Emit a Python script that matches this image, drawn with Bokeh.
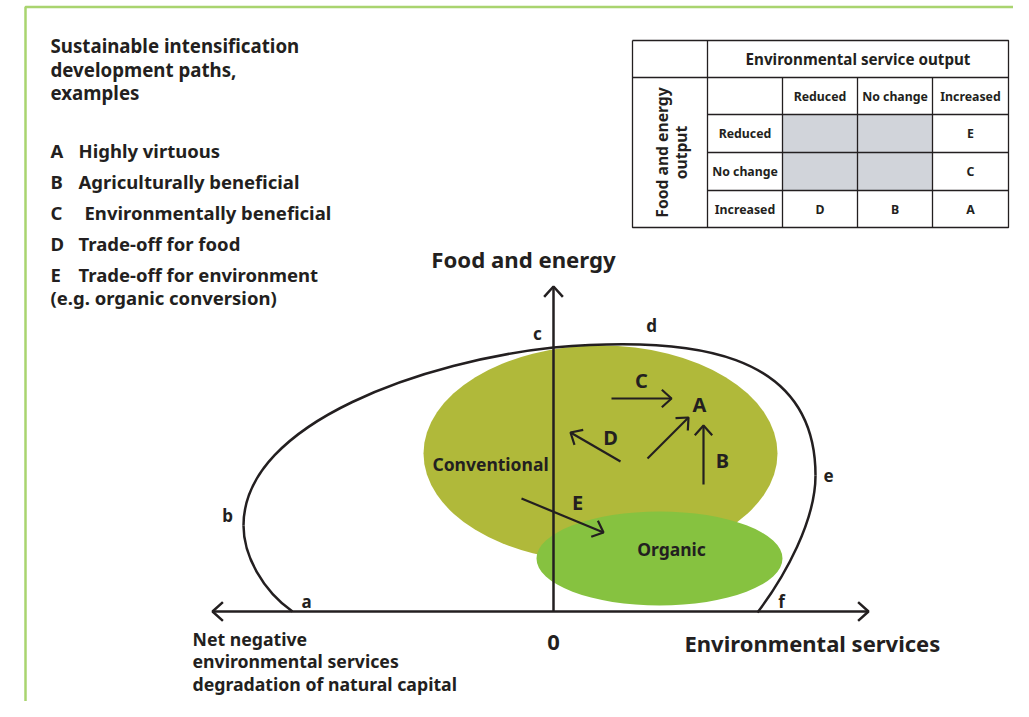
import math
from bokeh.plotting import figure
from bokeh.models import Range1d
from bokeh.embed import file_html
from bokeh.resources import INLINE
from bokeh.core.properties import value

INK = "#231f20"
FONT = "Noto Sans"
FRAME_GREEN = "#a9d46f"
OLIVE = "#b0b93a"
ORGANIC = "#86c240"
GREY = "#d1d4da"

# ---------------- data (diagram positions, px) ----------
title_lines = ["Sustainable intensification", "development paths,", "examples"]
title_y = [45, 68.5, 92]

legend_keys = ["A", "B", "C", "D", "E"]
legend_labels = ["Highly virtuous", "Agriculturally beneficial", "Environmentally beneficial",
                 "Trade-off for food", "Trade-off for environment"]
legend_label_x = [78, 78, 84, 78, 78]
legend_y = [150, 181, 212, 243, 274]
legend_note = "(e.g. organic conversion)"
legend_note_y = 297

# table
table_cols = [632, 707, 782, 857, 932, 1008]
table_rows = [40, 77, 114, 152, 190, 227]
table_header = "Environmental service output"
table_side = ["Food and energy", "output"]
table_side_x = [661, 680]
env_levels = ["Reduced", "No change", "Increased"]
food_levels = ["Reduced", "No change", "Increased"]
cell_codes = [["", "", "E"],
              ["", "", "C"],
              ["D", "B", "A"]]
cell_shaded = [[1, 1, 0],
               [1, 1, 0],
               [0, 0, 0]]

# axes
origin = (553, 611)
y_axis_top = 286
x_axis_left = 212
x_axis_right = 868
y_axis_title = "Food and energy"
y_axis_title_pos = (523, 259)
x_axis_title = "Environmental services"
x_axis_title_pos = (684, 642)
zero_pos = (553, 642)
neg_lines = ["Net negative", "environmental services", "degradation of natural capital"]
neg_y = [638.5, 660.5, 683]

# boundary curve (cubic bezier segments: start, ctrl0, ctrl1, end)
bz_x0 = [292, 243, 553, 815]
bz_y0 = [611, 525, 347, 475]
bz_cx0 = [262, 243, 690, 815]
bz_cy0 = [590, 420, 335, 520]
bz_cx1 = [243, 430, 815, 785]
bz_cy1 = [555, 360, 350, 575]
bz_x1 = [243, 553, 815, 757]
bz_y1 = [525, 347, 475, 612]

point_names = ["a", "b", "c", "d", "e", "f"]
point_x = [306, 227, 537, 651, 828, 781]
point_y = [601, 515, 333, 325, 475, 601]

# systems (ellipses)
sys_names = ["Conventional", "Organic"]
sys_cx = [600, 659]
sys_cy = [453, 558]
sys_w = [354, 246]
sys_h = [216, 94]
sys_colors = [OLIVE, ORGANIC]
sys_label_x = [490, 671]
sys_label_y = [463, 548]

# development path arrows
path_x0 = [611, 647, 703, 620, 521]
path_y0 = [398, 458, 484, 461, 498]
path_x1 = [671, 688, 703, 570, 603]
path_y1 = [398, 417, 425, 432, 532]
path_label_names = ["C", "A", "B", "D", "E"]
path_label_x = [641, 699, 722, 610, 577]
path_label_y = [380, 404, 460, 437, 502]


def chevron(x0, y0, x1, y1, length=12, half_angle=40):
    """Open arrow head at (x1, y1) for a shaft coming from (x0, y0)."""
    ang = math.atan2(y0 - y1, x0 - x1)
    a = math.radians(half_angle)
    xs = [x1 + length * math.cos(ang + a), x1, x1 + length * math.cos(ang - a)]
    ys = [y1 + length * math.sin(ang + a), y1, y1 + length * math.sin(ang - a)]
    return xs, ys


W, H = 1013, 701
p = figure(width=W, height=H, x_range=Range1d(0, W), y_range=Range1d(H, 0),
           output_backend="svg", toolbar_location=None, min_border=0)
p.axis.visible = False
p.grid.visible = False
p.outline_line_color = None
p.background_fill_color = "white"
p.border_fill_color = "white"

# frame
p.line([25, 25, W + 5], [H + 5, 6.5, 6.5], line_color=FRAME_GREEN, line_width=2.5)


def txt(x, y, t, size, align="left", baseline="middle", angle=0.0):
    p.text(x=x, y=y, text=t, text_font=value(FONT), text_font_style="bold",
           text_font_size=value(f"{size}px"), text_color=INK, text_align=align,
           text_baseline=baseline, angle=angle)


# title + legend
txt([50] * 3, title_y, title_lines, 18.7)
txt([50] * 5, legend_y, legend_keys, 18.5)
txt(legend_label_x, legend_y, legend_labels, 18.5)
txt([50], [legend_note_y], [legend_note], 18.5)

# table
c, r = table_cols, table_rows
for i in range(3):
    for j in range(3):
        if cell_shaded[i][j]:
            p.quad(left=c[j + 2], right=c[j + 3], top=r[i + 2], bottom=r[i + 3],
                   fill_color=GREY, line_color=None)
tx, ty = [], []
tx.append([c[0], c[-1], c[-1], c[0], c[0]]); ty.append([r[0], r[0], r[-1], r[-1], r[0]])
tx.append([c[1], c[1]]); ty.append([r[0], r[-1]])
for k in (2, 3, 4):
    tx.append([c[k], c[k]]); ty.append([r[1], r[-1]])
tx.append([c[0], c[-1]]); ty.append([r[1], r[1]])
for k in (2, 3, 4):
    tx.append([c[1], c[-1]]); ty.append([r[k], r[k]])
p.multi_line(tx, ty, line_color=INK, line_width=1.3)

txt([(c[1] + c[-1]) / 2], [(r[0] + r[1]) / 2], [table_header], 15.2, align="center")
txt([(c[j + 2] + c[j + 3]) / 2 for j in range(3)], [(r[1] + r[2]) / 2] * 3, env_levels, 12.3,
    align="center")
txt([(c[1] + c[2]) / 2] * 3, [(r[i + 2] + r[i + 3]) / 2 for i in range(3)], food_levels, 12.3,
    align="center")
cx_, cy_, ct_ = [], [], []
for i in range(3):
    for j in range(3):
        if cell_codes[i][j]:
            cx_.append((c[j + 2] + c[j + 3]) / 2)
            cy_.append((r[i + 2] + r[i + 3]) / 2)
            ct_.append(cell_codes[i][j])
txt(cx_, cy_, ct_, 12.3, align="center")
mid_y = (r[1] + r[-1]) / 2
txt(table_side_x, [mid_y, mid_y], table_side, 15.7, align="center", angle=math.pi / 2)

# ellipses
p.ellipse(x=sys_cx, y=sys_cy, width=sys_w, height=sys_h, width_units="screen",
          height_units="screen", fill_color=sys_colors, line_color=None)
txt(sys_label_x, sys_label_y, sys_names, 17.5, align="center")

# boundary curve
p.bezier(x0=bz_x0, y0=bz_y0, x1=bz_x1, y1=bz_y1, cx0=bz_cx0, cy0=bz_cy0,
         cx1=bz_cx1, cy1=bz_cy1, line_color=INK, line_width=2.5)
txt(point_x, point_y, point_names, 17, align="center")

# axes
ox, oy = origin
p.line([ox, ox], [oy, y_axis_top], line_color=INK, line_width=2.5)
p.line([x_axis_left, x_axis_right], [oy, oy], line_color=INK, line_width=2.5)
hx, hy = [], []
for (a0, b0, a1, b1) in [(ox, oy, ox, y_axis_top), (ox, oy, x_axis_right, oy), (ox, oy, x_axis_left, oy)]:
    xs, ys = chevron(a0, b0, a1, b1, length=14, half_angle=42)
    hx.append(xs); hy.append(ys)
p.multi_line(hx, hy, line_color=INK, line_width=2.5)

txt([y_axis_title_pos[0]], [y_axis_title_pos[1]], [y_axis_title], 22.2, align="center")
txt([x_axis_title_pos[0]], [x_axis_title_pos[1]], [x_axis_title], 22, align="left")
txt([zero_pos[0]], [zero_pos[1]], ["0"], 22, align="center")
txt([192] * 3, neg_y, neg_lines, 17.7)

# development path arrows
p.segment(x0=path_x0, y0=path_y0, x1=path_x1, y1=path_y1, line_color=INK, line_width=2.2)
ax, ay = [], []
for a0, b0, a1, b1 in zip(path_x0, path_y0, path_x1, path_y1):
    xs, ys = chevron(a0, b0, a1, b1, length=13, half_angle=42)
    ax.append(xs); ay.append(ys)
p.multi_line(ax, ay, line_color=INK, line_width=2.2)
txt(path_label_x, path_label_y, path_label_names, 20, align="center")

open("out.html", "w").write(file_html(p, INLINE))
